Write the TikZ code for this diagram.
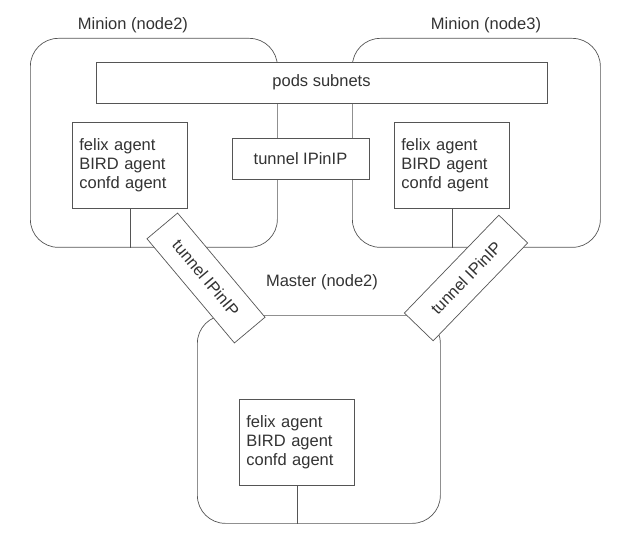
\documentclass[tikz,border=0pt]{standalone}
\usepackage{fontspec}
\setmainfont{Liberation Sans}
\definecolor{ln}{HTML}{555555}
\definecolor{tx}{HTML}{333333}
\begin{document}
\begin{tikzpicture}[x=1pt,y=-1pt,
  container/.style={draw=ln,line width=0.7pt,rounded corners=28pt,anchor=north west,inner sep=0pt},
  plainbox/.style={draw=ln,fill=white,line width=0.7pt,inner sep=0pt,text=tx,font=\fontsize{16.5}{19}\selectfont},
  agentbox/.style={plainbox,anchor=north west,minimum width=115pt,minimum height=86pt,text width=101pt,align=left,inner xsep=7pt},
  lbl/.style={text=tx,font=\fontsize{16.5}{19}\selectfont,inner sep=0pt},
  conn/.style={draw=ln,line width=0.7pt}]
\useasboundingbox (0,0) rectangle (618,545);
% containers
\node[container,minimum width=247pt,minimum height=209pt] (m2) at (30,38) {};
\node[container,minimum width=248pt,minimum height=209pt] (m3) at (352,38) {};
\node[container,minimum width=243pt,minimum height=208pt] (ma) at (197,315) {};
% labels
\node[lbl] (l2) at (133,25) {Minion (node2)};
\node[lbl] (l3) at (486,25) {Minion (node3)};
\node[lbl] (lm) at (322,282) {Master (node2)};
% shared boxes
\node[plainbox,minimum width=451pt,minimum height=41pt] (pods) at (321.5,82.5) {pods subnets};
\node[plainbox,minimum width=137pt,minimum height=41pt] (tun) at (300.5,158.5) {tunnel IPinIP};
\node[plainbox,minimum width=136pt,minimum height=40pt,rotate=-50] (tl) at (206,278) {tunnel IPinIP};
\node[plainbox,minimum width=136pt,minimum height=40pt,rotate=46] (tr) at (466,278) {tunnel IPinIP};
% agents
\node[agentbox] (f2) at (72,122) {felix agent\\BIRD agent\\confd agent};
\node[agentbox] (f3) at (394,122) {felix agent\\BIRD agent\\confd agent};
\node[agentbox] (fm) at (239,399) {felix agent\\BIRD agent\\confd agent};
% connectors
\draw[conn] (f2.south) -- (f2.south |- m2.south);
\draw[conn] (f3.south) -- (f3.south |- m3.south);
\draw[conn] (fm.south) -- (fm.south |- ma.south);
\end{tikzpicture}
\end{document}
